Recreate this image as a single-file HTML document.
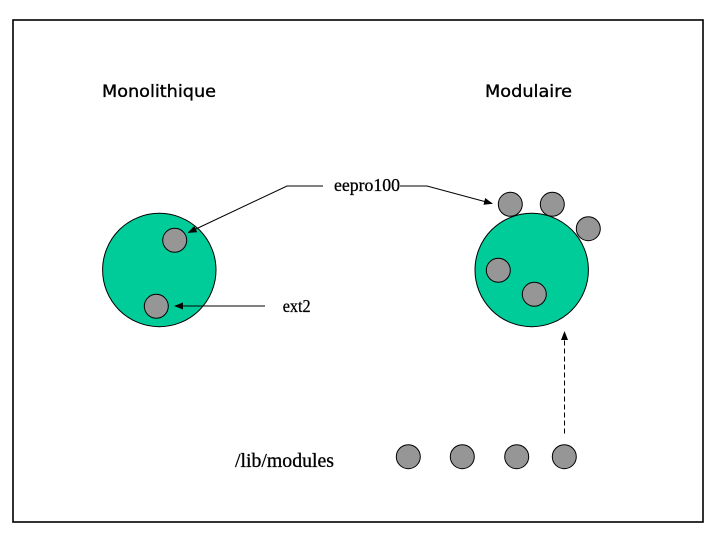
<!DOCTYPE html>
<html>
<head>
<meta charset="utf-8">
<style>
html,body{margin:0;padding:0;background:#fff;}
svg{display:block;}
</style>
</head>
<body>
<svg width="720" height="540" viewBox="0 0 720 540" xmlns="http://www.w3.org/2000/svg">
<defs>
<marker id="ah" markerWidth="9" markerHeight="7" refX="8" refY="3.5" orient="auto" markerUnits="userSpaceOnUse">
<path d="M0,0 L9,3.5 L0,7 z" fill="#000"/>
</marker>
</defs>
<rect x="0" y="0" width="720" height="540" fill="#fff"/>
<rect x="13" y="20" width="690" height="502" fill="none" stroke="#000" stroke-width="1.6"/>

<text x="102" y="97" font-family="DejaVu Sans, sans-serif" font-size="17" textLength="114" lengthAdjust="spacingAndGlyphs" stroke="#000" stroke-width="0.35">Monolithique</text>
<text x="485" y="97" font-family="DejaVu Sans, sans-serif" font-size="17" textLength="87" lengthAdjust="spacingAndGlyphs" stroke="#000" stroke-width="0.35">Modulaire</text>

<!-- left big circle -->
<circle cx="159.3" cy="270" r="56.7" fill="#00CC99" stroke="#000" stroke-width="1"/>
<circle cx="174.7" cy="240.3" r="12" fill="#969696" stroke="#000" stroke-width="1"/>
<circle cx="156.3" cy="306.3" r="12" fill="#969696" stroke="#000" stroke-width="1"/>

<!-- right big circle -->
<circle cx="531.7" cy="270" r="56.7" fill="#00CC99" stroke="#000" stroke-width="1"/>
<circle cx="510.3" cy="204.3" r="12" fill="#969696" stroke="#000" stroke-width="1"/>
<circle cx="552.3" cy="204.3" r="12" fill="#969696" stroke="#000" stroke-width="1"/>
<circle cx="588.3" cy="228.7" r="12" fill="#969696" stroke="#000" stroke-width="1"/>
<circle cx="498.3" cy="270.3" r="12" fill="#969696" stroke="#000" stroke-width="1"/>
<circle cx="534.3" cy="294.3" r="12" fill="#969696" stroke="#000" stroke-width="1"/>

<!-- eepro100 label and arrows -->
<text x="334" y="191" font-family="Liberation Serif, serif" font-size="18" textLength="66" lengthAdjust="spacingAndGlyphs" stroke="#000" stroke-width="0.3">eepro100</text>
<polyline points="323,186 287,186 188.5,232.5" fill="none" stroke="#000" stroke-width="1" marker-end="url(#ah)"/>
<polyline points="400,186 427,186 492,203.5" fill="none" stroke="#000" stroke-width="1" marker-end="url(#ah)"/>

<!-- ext2 -->
<text x="282.7" y="312" font-family="Liberation Serif, serif" font-size="18" textLength="28" lengthAdjust="spacingAndGlyphs" stroke="#000" stroke-width="0.3">ext2</text>
<line x1="265" y1="306" x2="175" y2="306" stroke="#000" stroke-width="1" marker-end="url(#ah)"/>

<!-- /lib/modules -->
<text x="235" y="467" font-family="Liberation Serif, serif" font-size="20" textLength="99" lengthAdjust="spacingAndGlyphs" stroke="#000" stroke-width="0.3">/lib/modules</text>
<circle cx="408.3" cy="456.7" r="12" fill="#969696" stroke="#000" stroke-width="1"/>
<circle cx="462.3" cy="456.7" r="12" fill="#969696" stroke="#000" stroke-width="1"/>
<circle cx="516.7" cy="456.7" r="12" fill="#969696" stroke="#000" stroke-width="1"/>
<circle cx="564.3" cy="456.7" r="12" fill="#969696" stroke="#000" stroke-width="1"/>

<!-- dashed arrow -->
<line x1="564.5" y1="433.5" x2="564.5" y2="332" stroke="#000" stroke-width="1" stroke-dasharray="5,3" marker-end="url(#ah)"/>
</svg>
</body>
</html>
